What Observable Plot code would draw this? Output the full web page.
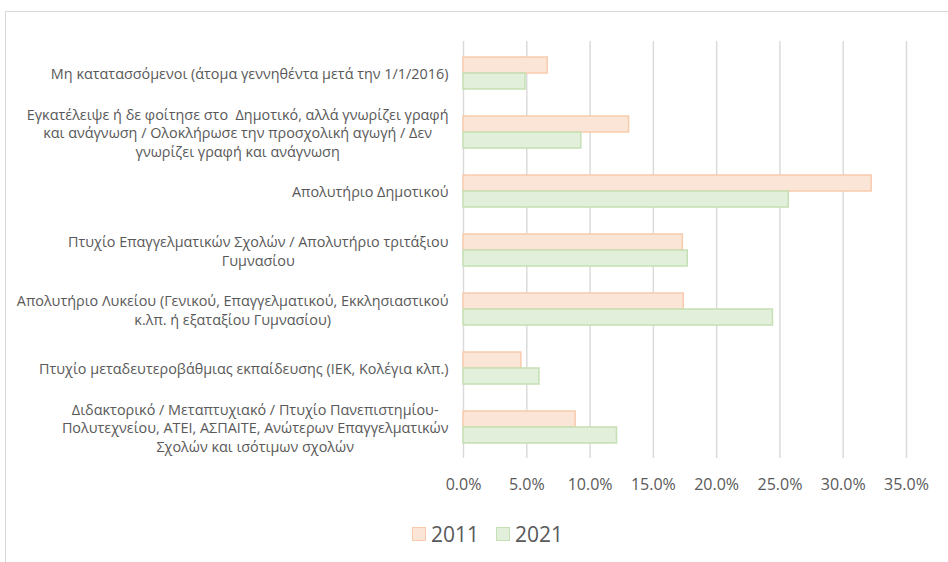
<!DOCTYPE html>
<html>
<head>
<meta charset="utf-8">
<script src="https://cdn.jsdelivr.net/npm/d3@7"></script>
<script src="https://cdn.jsdelivr.net/npm/@observablehq/plot@0.6"></script>
<style>
  html, body { margin: 0; padding: 0; background: #fff; overflow: hidden; }
  body { width: 948px; height: 562px; position: relative; font-family: "Open Sans", sans-serif; }
  #frame { position: absolute; left: 5px; top: 11px; width: 1000px; height: 600px;
           border-left: 1.5px solid #d9d9d9; border-top: 1.5px solid #d9d9d9; box-sizing: border-box; }
  #chart { position: absolute; left: 0; top: 0; }
  #legend { position: absolute; left: 412px; top: 520px; display: flex; align-items: center;
            font-size: 21px; color: #595959; }
  .sw { width: 12px; height: 12px; border: 1.5px solid; margin-right: 5px; }
  .item { display: flex; align-items: center; margin-right: 17px; }
</style>
</head>
<body>
<div id="frame"></div>
<div id="chart"></div>
<div id="legend"></div>
<script>
const categories = [
  "Μη κατατασσόμενοι (άτομα γεννηθέντα μετά την 1/1/2016)",
  "Εγκατέλειψε ή δε φοίτησε στο  Δημοτικό, αλλά γνωρίζει γραφή\nκαι ανάγνωση / Ολοκλήρωσε την προσχολική αγωγή / Δεν\nγνωρίζει γραφή και ανάγνωση",
  "Απολυτήριο Δημοτικού",
  "Πτυχίο Επαγγελματικών Σχολών / Απολυτήριο τριτάξιου\nΓυμνασίου",
  "Απολυτήριο Λυκείου (Γενικού, Επαγγελματικού, Εκκλησιαστικού\nκ.λπ. ή εξαταξίου Γυμνασίου)",
  "Πτυχίο μεταδευτεροβάθμιας εκπαίδευσης (ΙΕΚ, Κολέγια κλπ.)",
  "Διδακτορικό / Μεταπτυχιακό / Πτυχίο Πανεπιστημίου-\nΠολυτεχνείου, ΑΤΕΙ, ΑΣΠΑΙΤΕ, Ανώτερων Επαγγελματικών\nΣχολών και ισότιμων σχολών"
];
const values2011 = [0.0665, 0.1308, 0.3225, 0.1733, 0.174, 0.0457, 0.0886];
const values2021 = [0.049, 0.0931, 0.257, 0.1772, 0.2445, 0.060, 0.1213];
const xTicks = [0, 0.05, 0.10, 0.15, 0.20, 0.25, 0.30, 0.35];
const seriesNames = ["2011", "2021"];
const fills = ["#fbe5d6", "#e2efda"];
const strokes = ["#f8cbad", "#c5e0b4"];

const data2011 = categories.map((c, i) => ({cat: c, v: values2011[i]}));
const data2021 = categories.map((c, i) => ({cat: c, v: values2021[i]}));

const labelSize = 14.4;
const ctx = document.createElement("canvas").getContext("2d");
ctx.font = labelSize + "px 'Open Sans'";
const widest = c => Math.max(...c.split("\n").map(l => ctx.measureText(l).width));

const labelMarks = categories.map(c => Plot.text([c], {
  y: d => d, text: d => d, frameAnchor: "left", textAnchor: "middle",
  dx: -(15 + widest(c) / 2), fontSize: labelSize, lineHeight: 1.28, fill: "#595959"
}));

const fmt = d => (d * 100).toFixed(1) + "%";

const chart = Plot.plot({
  width: 948,
  height: 510,
  marginLeft: 463,
  marginRight: 42,
  marginTop: 41,
  marginBottom: 52,
  style: {fontFamily: "'Open Sans', sans-serif", color: "#595959", overflow: "visible"},
  x: {domain: [0, 0.35], ticks: xTicks, tickFormat: fmt, label: null},
  y: {domain: categories, paddingInner: 0.463, paddingOuter: 0.2315, align: 0.5, axis: null},
  marks: [
    Plot.gridX(xTicks, {stroke: "#d9d9d9", strokeOpacity: 1, strokeWidth: 1.4}),
    Plot.axisX(xTicks, {tickSize: 0, tickPadding: 20, fontSize: 16, fill: "#595959",
      tickFormat: fmt, label: null}),
    Plot.barX(data2011, {y: "cat", x: "v", insetBottom: 16, fill: fills[0], stroke: strokes[0], strokeWidth: 1.5}),
    Plot.barX(data2021, {y: "cat", x: "v", insetTop: 16, fill: fills[1], stroke: strokes[1], strokeWidth: 1.5}),
    ...labelMarks
  ]
});
document.getElementById("chart").appendChild(chart);

const legend = document.getElementById("legend");
seriesNames.forEach((s, i) => {
  const it = document.createElement("div");
  it.className = "item";
  const sw = document.createElement("div");
  sw.className = "sw";
  sw.style.background = fills[i];
  sw.style.borderColor = strokes[i];
  it.appendChild(sw);
  const t = document.createElement("span");
  t.textContent = s;
  it.appendChild(t);
  legend.appendChild(it);
});
</script>
</body>
</html>
